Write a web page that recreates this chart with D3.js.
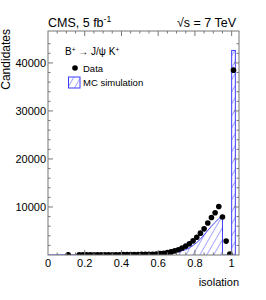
<!DOCTYPE html>
<html><head><meta charset="utf-8">
<script src="https://cdn.jsdelivr.net/npm/d3@7"></script>
<style>body{margin:0;background:#fff}svg{display:block;font-family:"Liberation Sans",Arial,sans-serif}</style>
</head><body><svg id="c" width="266" height="300"></svg>
<script>
// Data (bin centres, width 0.02)
const dataX = [0.11,0.17,0.19,0.21,0.23,0.25,0.27,0.29,0.31,0.33,0.35,0.37,0.39,0.41,0.43,0.45,0.47,0.49,0.51,0.53,0.55,0.57,0.59,0.61,0.63,0.65,0.67,0.69,0.71,0.73,0.75,0.77,0.79,0.81,0.83,0.85,0.87,0.89,0.91,0.93,0.95,0.97,0.99,1.01];
const dataY = [30,20,25,30,30,35,40,40,45,50,55,60,65,70,80,85,95,105,120,135,150,170,200,280,380,500,650,850,1100,1450,1850,2350,2950,3700,4550,5450,6650,7800,8800,10100,7900,2900,200,38500];
const binHalfWidth = 0.01;
// MC simulation (bin centres), plus the last bin [1.00,1.02]
const mcX = [0.00,0.11,0.17,0.25,0.33,0.41,0.49,0.55,0.57,0.59,0.61,0.63,0.65,0.67,0.69,0.71,0.73,0.75,0.77,0.79,0.81,0.83,0.85,0.87,0.89,0.91,0.93,0.95];
const mcY = [0,20,20,30,40,60,90,130,150,180,230,290,360,450,560,700,880,1100,1500,2000,2600,3300,4200,5100,6000,6800,7600,8300];
const mcLastBin = [1.00, 1.02];
const mcLastValue = 42600;
const yTicks = [10000,20000,30000,40000];
const xTicks = [0,0.2,0.4,0.6,0.8,1];
const xTickLabels = ["0","0.2","0.4","0.6","0.8","1"];

const svg = d3.select("#c");
const L=48, R=239, T=31, B=255;
const x = d3.scaleLinear().domain([0,1.04]).range([L,R]);
const y = d3.scaleLinear().domain([0,46650]).range([B,T]);
const blue = "#3c3cff";

const defs = svg.append("defs");
const pat = defs.append("pattern").attr("id","hatch").attr("patternUnits","userSpaceOnUse")
  .attr("width",6).attr("height",6).attr("patternTransform","rotate(30)");
pat.append("line").attr("x1",0).attr("y1",0).attr("x2",0).attr("y2",6).attr("stroke",blue).attr("stroke-width",0.9);
defs.append("clipPath").attr("id","clip").append("rect").attr("x",L).attr("y",T).attr("width",R-L).attr("height",B-T);

const g = svg.append("g").attr("clip-path","url(#clip)");
// MC curve area
const pts = mcX.map((d,i)=>[x(d),y(mcY[i])]);
const last = mcX.length-1;
const areaPts = pts.concat([[x(mcX[last]),y(0)]]);
g.append("path").attr("d", d3.line()(areaPts)+"Z").attr("fill","url(#hatch)").attr("stroke","none");
g.append("path").attr("d", d3.line()(areaPts.concat([[x(mcLastBin[0]),y(0)]]))).attr("fill","none").attr("stroke",blue).attr("stroke-width",1);
g.append("rect").attr("x",x(mcLastBin[0])).attr("y",y(mcLastValue))
  .attr("width",x(mcLastBin[1])-x(mcLastBin[0])).attr("height",y(0)-y(mcLastValue))
  .attr("fill","url(#hatch)").attr("stroke",blue).attr("stroke-width",1);

// data points with horizontal bin-width bars
g.selectAll("line.e").data(dataX).join("line").attr("class","e")
  .attr("x1",d=>x(d-binHalfWidth)).attr("x2",d=>x(d+binHalfWidth))
  .attr("y1",(d,i)=>y(dataY[i])).attr("y2",(d,i)=>y(dataY[i])).attr("stroke","#000").attr("stroke-width",1.2);
g.selectAll("circle.d").data(dataX).join("circle").attr("class","d")
  .attr("cx",d=>x(d)).attr("cy",(d,i)=>y(dataY[i])).attr("r",2.8).attr("fill","#000");

// frame and ticks
const axc = "#777";
svg.append("rect").attr("x",L).attr("y",T).attr("width",R-L).attr("height",B-T).attr("fill","none").attr("stroke",axc).attr("stroke-width",1);
const yMinor = d3.range(2000,46000,2000);
yMinor.forEach(v=>{
  const major = v%10000===0; const len = major?5:2.5;
  svg.append("line").attr("x1",L).attr("x2",L+len).attr("y1",y(v)).attr("y2",y(v)).attr("stroke",axc);
  svg.append("line").attr("x1",R).attr("x2",R-len).attr("y1",y(v)).attr("y2",y(v)).attr("stroke",axc);
});
const xMinor = d3.range(0.05,1.04,0.05);
xMinor.forEach(v=>{
  const major = Math.abs(v*5-Math.round(v*5))<1e-6; const len = major?5:2.5;
  svg.append("line").attr("x1",x(v)).attr("x2",x(v)).attr("y1",B).attr("y2",B-len).attr("stroke",axc);
  svg.append("line").attr("x1",x(v)).attr("x2",x(v)).attr("y1",T).attr("y2",T+len).attr("stroke",axc);
});

// tick labels
svg.selectAll("text.yt").data(yTicks).join("text").attr("class","yt")
  .attr("x",L-2).attr("y",d=>y(d)+4).attr("text-anchor","end").attr("font-size",11).text(d=>d);
svg.selectAll("text.xt").data(xTicks).join("text").attr("class","xt")
  .attr("x",d=>x(d)).attr("y",267).attr("text-anchor","middle").attr("font-size",11).text((d,i)=>xTickLabels[i]);

// axis titles
svg.append("text").attr("x",R).attr("y",286).attr("text-anchor","end").attr("font-size",11).text("isolation");
svg.append("text").attr("transform","translate(10,29) rotate(-90)").attr("text-anchor","end").attr("font-size",12).text("Candidates");

// header
const h = svg.append("text").attr("x",L).attr("y",27).attr("font-size",12.5);
h.append("tspan").text("CMS, 5 fb");
h.append("tspan").attr("dy",-5).attr("font-size",8.5).text("-1");
const h2 = svg.append("text").attr("x",R-3).attr("y",27).attr("font-size",12.5).attr("text-anchor","end");
h2.append("tspan").text("\u221As = 7 TeV");

// legend
const lg = svg.append("text").attr("x",65).attr("y",55).attr("font-size",10);
lg.append("tspan").text("B");
lg.append("tspan").attr("dy",-3.5).attr("font-size",6.5).text("+");
lg.append("tspan").attr("dy",3.5).text(" \u2192 J/\u03C8 K");
lg.append("tspan").attr("dy",-3.5).attr("font-size",6.5).text("+");
svg.append("circle").attr("cx",75).attr("cy",68).attr("r",2.8).attr("fill","#000");
svg.append("text").attr("x",83).attr("y",71.5).attr("font-size",9.5).text("Data");
svg.append("rect").attr("x",68.5).attr("y",77).attr("width",11.5).attr("height",11).attr("fill","url(#hatch)").attr("stroke",blue).attr("stroke-width",1);
svg.append("text").attr("x",83).attr("y",86).attr("font-size",9.5).text("MC simulation");
</script></body></html>
